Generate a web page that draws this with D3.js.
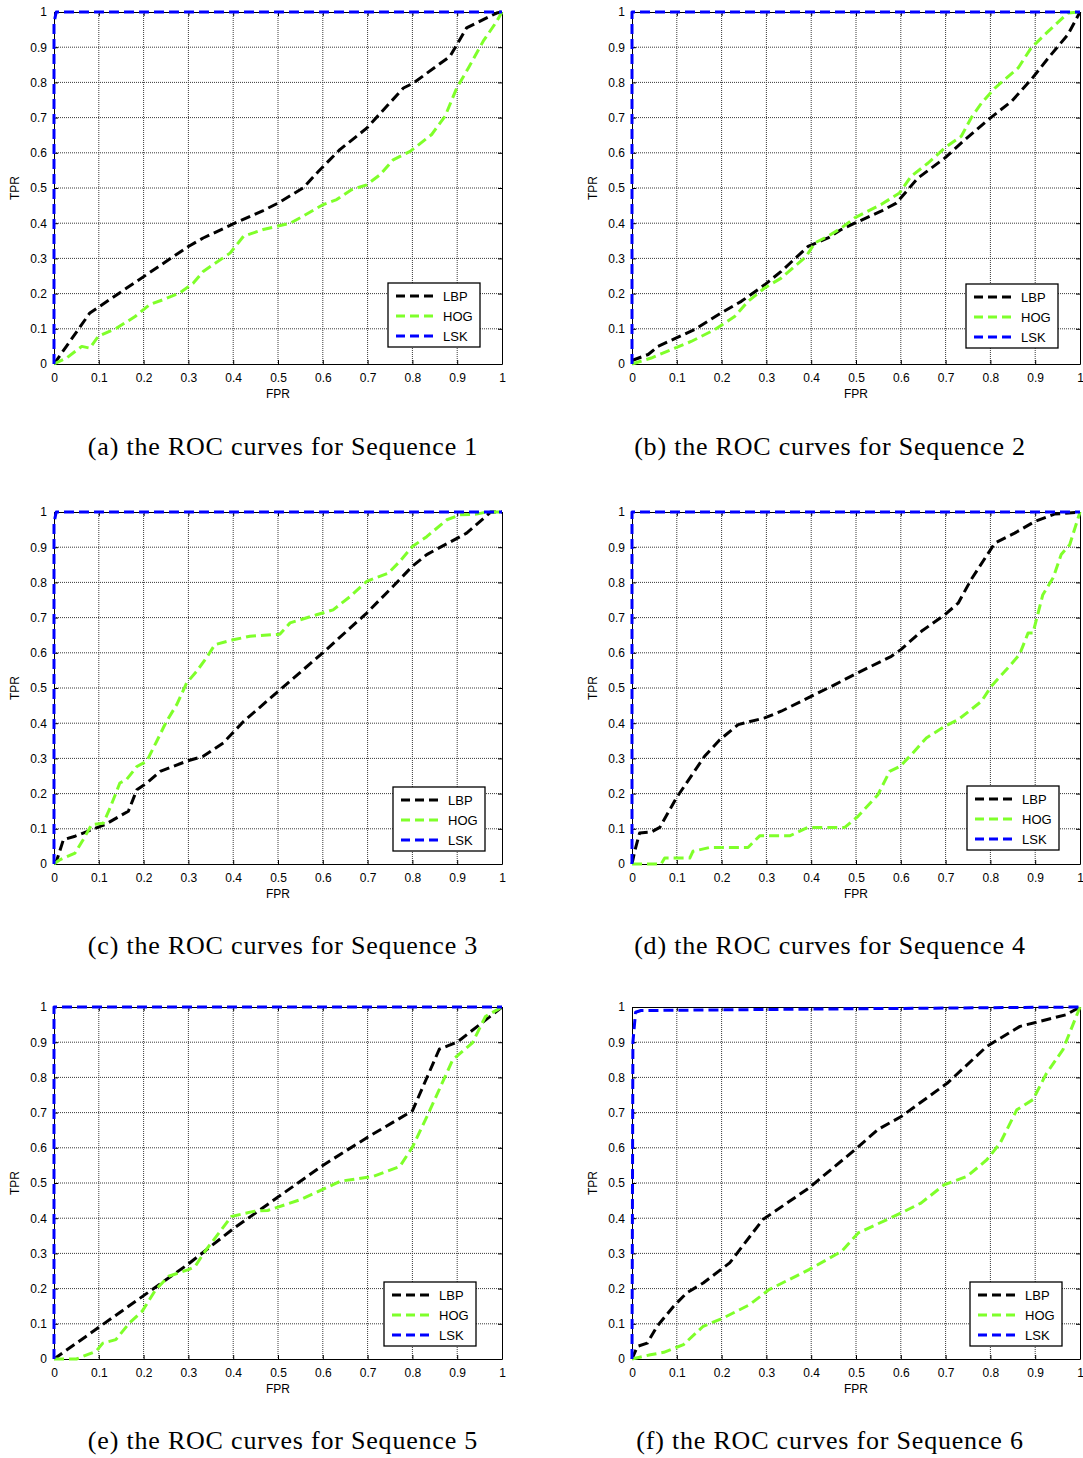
<!DOCTYPE html>
<html><head><meta charset="utf-8">
<script src="https://cdn.jsdelivr.net/npm/d3@7"></script>
<style>
html,body{margin:0;padding:0;background:#fff;}
svg{display:block;}
</style></head>
<body>
<svg id="chart" width="1083" height="1458"></svg>
<script>
// ---- data (FPR, TPR) ----
const ticks = [0,0.1,0.2,0.3,0.4,0.5,0.6,0.7,0.8,0.9,1];
const tickLabels = ["0","0.1","0.2","0.3","0.4","0.5","0.6","0.7","0.8","0.9","1"];
const seriesNames = ["LBP","HOG","LSK"];
const captions = [
  "(a) the ROC curves for Sequence 1",
  "(b) the ROC curves for Sequence 2",
  "(c) the ROC curves for Sequence 3",
  "(d) the ROC curves for Sequence 4",
  "(e) the ROC curves for Sequence 5",
  "(f) the ROC curves for Sequence 6"
];

const seq1LBP = [[0,0],[0.08,0.145],[0.30,0.334],[0.333,0.358],[0.40,0.398],[0.467,0.436],[0.50,0.457],[0.556,0.50],[0.59,0.547],[0.638,0.609],[0.698,0.67],[0.78,0.784],[0.802,0.798],[0.884,0.874],[0.921,0.955],[0.988,0.997],[1,1]];
const seq1HOG = [[0,0],[0.028,0.017],[0.062,0.05],[0.08,0.045],[0.099,0.079],[0.14,0.102],[0.181,0.135],[0.214,0.169],[0.244,0.183],[0.281,0.202],[0.311,0.23],[0.333,0.263],[0.393,0.315],[0.423,0.363],[0.467,0.382],[0.527,0.40],[0.556,0.42],[0.601,0.453],[0.631,0.467],[0.664,0.495],[0.698,0.509],[0.728,0.538],[0.757,0.58],[0.795,0.604],[0.843,0.652],[0.873,0.704],[0.899,0.784],[0.925,0.841],[0.958,0.917],[0.988,0.973],[1,1]];
const seq1LSK = [[0,0],[0,0.97],[0.005,1],[1,1]];

const seq2LBP = [[0,0.01],[0.036,0.027],[0.058,0.05],[0.099,0.074],[0.14,0.098],[0.199,0.145],[0.244,0.178],[0.296,0.225],[0.333,0.263],[0.393,0.334],[0.4375,0.358],[0.467,0.382],[0.497,0.40],[0.556,0.434],[0.59,0.457],[0.638,0.528],[0.698,0.585],[0.743,0.637],[0.795,0.694],[0.847,0.746],[0.891,0.808],[0.929,0.869],[0.973,0.936],[1,1]];
const seq2HOG = [[0,0],[0.043,0.017],[0.088,0.041],[0.132,0.064],[0.185,0.098],[0.229,0.135],[0.259,0.178],[0.296,0.216],[0.333,0.244],[0.389,0.306],[0.408,0.344],[0.4375,0.363],[0.467,0.386],[0.497,0.415],[0.556,0.453],[0.597,0.486],[0.623,0.533],[0.661,0.571],[0.698,0.614],[0.735,0.647],[0.757,0.699],[0.78,0.741],[0.81,0.784],[0.862,0.841],[0.891,0.898],[0.929,0.945],[0.973,0.997],[1,1]];
const seq2LSK = [[0,0],[0,1],[1,1]];

const seq3LBP = [[0,0],[0.006,0.01],[0.021,0.069],[0.047,0.079],[0.065,0.088],[0.103,0.107],[0.114,0.112],[0.166,0.15],[0.185,0.211],[0.207,0.23],[0.237,0.263],[0.296,0.292],[0.333,0.306],[0.378,0.344],[0.423,0.405],[0.50,0.49],[0.60,0.60],[0.698,0.713],[0.757,0.789],[0.80,0.846],[0.832,0.879],[0.921,0.94],[0.975,1],[1,1]];
const seq3HOG = [[0,0],[0.013,0.012],[0.047,0.031],[0.065,0.069],[0.084,0.112],[0.11,0.116],[0.125,0.159],[0.147,0.23],[0.162,0.24],[0.185,0.277],[0.207,0.292],[0.229,0.348],[0.251,0.405],[0.274,0.453],[0.296,0.514],[0.318,0.547],[0.34,0.585],[0.359,0.623],[0.40,0.637],[0.4375,0.647],[0.504,0.653],[0.527,0.685],[0.586,0.708],[0.623,0.722],[0.661,0.76],[0.698,0.803],[0.746,0.826],[0.772,0.86],[0.80,0.902],[0.832,0.93],[0.877,0.978],[0.906,0.992],[0.943,0.994],[0.966,1],[1,1]];
const seq3LSK = [[0,0],[0,0.97],[0.005,1],[1,1]];

const seq4LBP = [[0,0],[0.006,0.036],[0.017,0.088],[0.043,0.091],[0.062,0.104],[0.099,0.1875],[0.162,0.306],[0.196,0.353],[0.237,0.396],[0.296,0.415],[0.333,0.434],[0.393,0.472],[0.452,0.509],[0.499,0.54],[0.579,0.59],[0.60,0.609],[0.646,0.661],[0.698,0.708],[0.728,0.741],[0.757,0.808],[0.81,0.912],[0.854,0.94],[0.899,0.973],[0.943,0.994],[1,1]];
const seq4HOG = [[0,0],[0.065,0],[0.073,0.017],[0.129,0.017],[0.136,0.036],[0.173,0.047],[0.259,0.047],[0.285,0.08],[0.352,0.08],[0.393,0.104],[0.475,0.104],[0.504,0.135],[0.549,0.197],[0.575,0.263],[0.598,0.277],[0.624,0.311],[0.657,0.358],[0.698,0.391],[0.728,0.41],[0.78,0.462],[0.802,0.505],[0.839,0.557],[0.865,0.595],[0.884,0.656],[0.895,0.656],[0.917,0.765],[0.94,0.813],[0.958,0.879],[0.977,0.907],[1,1]];
const seq4LSK = [[0,0],[0,1],[1,1]];

const seq5LBP = [[0,0],[0.1,0.09],[0.2,0.18],[0.3,0.27],[0.4,0.37],[0.5,0.46],[0.6,0.55],[0.7,0.63],[0.8,0.705],[0.86,0.88],[0.88,0.89],[0.9,0.9],[0.95,0.95],[1,1]];
const seq5HOG = [[0,0],[0.05,0],[0.094,0.022],[0.109,0.045],[0.138,0.055],[0.168,0.102],[0.197,0.136],[0.227,0.197],[0.256,0.235],[0.30,0.254],[0.315,0.263],[0.337,0.306],[0.396,0.405],[0.448,0.42],[0.477,0.422],[0.551,0.453],[0.639,0.505],[0.713,0.519],[0.772,0.547],[0.801,0.604],[0.838,0.704],[0.89,0.85],[0.934,0.898],[0.963,0.973],[1,1]];
const seq5LSK = [[0,0],[0,1],[1,1]];

const seq6LBP = [[0,0],[0.012,0.036],[0.034,0.045],[0.056,0.093],[0.093,0.15],[0.122,0.1875],[0.159,0.216],[0.218,0.273],[0.292,0.396],[0.395,0.486],[0.498,0.595],[0.549,0.652],[0.601,0.689],[0.704,0.784],[0.792,0.888],[0.866,0.945],[0.969,0.978],[1,1]];
const seq6HOG = [[0,0],[0.041,0.012],[0.071,0.019],[0.115,0.041],[0.159,0.093],[0.203,0.116],[0.262,0.154],[0.306,0.197],[0.395,0.254],[0.468,0.306],[0.505,0.358],[0.601,0.415],[0.645,0.443],[0.697,0.495],[0.748,0.519],[0.792,0.566],[0.822,0.614],[0.859,0.708],[0.895,0.737],[0.925,0.811],[0.962,0.879],[1,1]];
const seq6LSK = [[0,0],[0.002,0.9],[0.008,0.985],[0.02,0.99],[0.5,0.995],[1,1]];

const panelData = [
  [seq1LBP, seq1HOG, seq1LSK],
  [seq2LBP, seq2HOG, seq2LSK],
  [seq3LBP, seq3HOG, seq3LSK],
  [seq4LBP, seq4HOG, seq4LSK],
  [seq5LBP, seq5HOG, seq5LSK],
  [seq6LBP, seq6HOG, seq6LSK]
];

// ---- layout ----
const colors = ["#000000", "#7fff2a", "#0000ff"];
const W = 448, H = 352;
const colX = [54, 632];
const rowY = [12, 512, 1007];
const capX = [283, 830];
const capY = [455, 954, 1449];
const legendPos = [ // [left, top] in page coords
  [388, 283], [966, 284], [393, 787], [967, 786], [384, 1282], [970, 1282]
];
const tickFont = "'Liberation Sans', Arial, Helvetica, sans-serif";

const svg = d3.select("#chart");

panelData.forEach((series, i) => {
  const col = i % 2, row = Math.floor(i / 2);
  const ox = colX[col], oy = rowY[row];
  const x = d3.scaleLinear().domain([0, 1]).range([0, W]);
  const y = d3.scaleLinear().domain([0, 1]).range([H, 0]);
  const g = svg.append("g").attr("transform", `translate(${ox},${oy})`);

  // grid
  const gridTicks = ticks.slice(1, -1);
  g.append("g").selectAll("line").data(gridTicks).join("line")
    .attr("x1", d => x(d)).attr("x2", d => x(d)).attr("y1", 0).attr("y2", H)
    .attr("stroke", "#3a3a3a").attr("stroke-width", 1).attr("stroke-dasharray", "1,1");
  g.append("g").selectAll("line").data(gridTicks).join("line")
    .attr("y1", d => y(d)).attr("y2", d => y(d)).attr("x1", 0).attr("x2", W)
    .attr("stroke", "#3a3a3a").attr("stroke-width", 1).attr("stroke-dasharray", "1,1");

  // axes with inward ticks
  const fmt = (d) => tickLabels[ticks.indexOf(d)];
  const xAxis = g.append("g").attr("transform", `translate(0,${H})`)
    .call(d3.axisBottom(x).tickValues(ticks).tickFormat(fmt).tickSizeInner(-4).tickSizeOuter(0).tickPadding(9));
  const yAxis = g.append("g")
    .call(d3.axisLeft(y).tickValues(ticks).tickFormat(fmt).tickSizeInner(-4).tickSizeOuter(0).tickPadding(7));
  const xTop = g.append("g")
    .call(d3.axisTop(x).tickValues(ticks).tickFormat("").tickSizeInner(-4).tickSizeOuter(0));
  const yRight = g.append("g").attr("transform", `translate(${W},0)`)
    .call(d3.axisRight(y).tickValues(ticks).tickFormat("").tickSizeInner(-4).tickSizeOuter(0));
  [xAxis, yAxis, xTop, yRight].forEach(a => {
    a.select(".domain").attr("stroke", "#000").attr("stroke-width", 1);
    a.selectAll(".tick line").attr("stroke", "#000");
    a.selectAll("text").attr("font-family", tickFont).attr("font-size", 12).attr("fill", "#000");
  });

  // axis labels
  g.append("text").attr("x", W / 2).attr("y", H + 34).attr("text-anchor", "middle")
    .attr("font-family", tickFont).attr("font-size", 12).text("FPR");
  g.append("text").attr("transform", `translate(${-35},${H / 2}) rotate(-90)`)
    .attr("text-anchor", "middle").attr("font-family", tickFont).attr("font-size", 12).text("TPR");

  // curves
  const line = d3.line().x(d => x(d[0])).y(d => y(d[1]));
  series.forEach((s, k) => {
    g.append("path").datum(s).attr("d", line)
      .attr("fill", "none").attr("stroke", colors[k]).attr("stroke-width", 3)
      .attr("stroke-dasharray", "10,5").attr("stroke-linejoin", "round");
  });

  // legend
  const [lx, ly] = legendPos[i];
  const lg = svg.append("g").attr("transform", `translate(${lx},${ly})`);
  lg.append("rect").attr("x", 0).attr("y", 0).attr("width", 92).attr("height", 64)
    .attr("fill", "#fff").attr("stroke", "#000").attr("stroke-width", 1.3);
  seriesNames.forEach((name, k) => {
    const yy = 13 + k * 20;
    lg.append("line").attr("x1", 8).attr("x2", 50).attr("y1", yy).attr("y2", yy)
      .attr("stroke", colors[k]).attr("stroke-width", 3).attr("stroke-dasharray", "9,5");
    lg.append("text").attr("x", 55).attr("y", yy + 4.5)
      .attr("font-family", tickFont).attr("font-size", 13).text(name);
  });

  // caption
  svg.append("text").attr("x", capX[col]).attr("y", capY[row]).attr("text-anchor", "middle")
    .attr("font-family", "'Liberation Serif', 'Times New Roman', serif").attr("font-size", 26)
    .attr("letter-spacing", 0.8)
    .text(captions[i]);
});
</script>
</body></html>
